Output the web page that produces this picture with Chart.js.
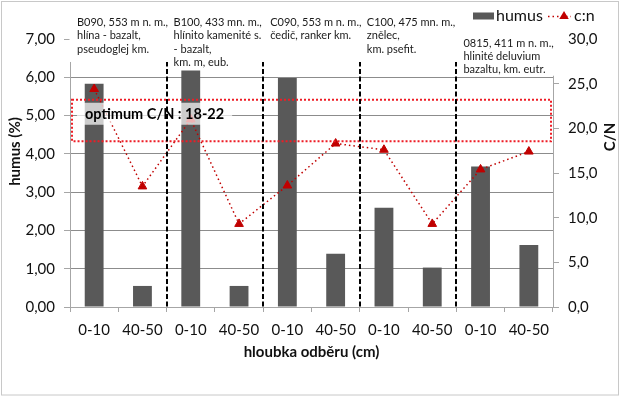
<!DOCTYPE html>
<html><head><meta charset="utf-8">
<script src="https://cdn.jsdelivr.net/npm/chart.js@4"></script>
<style>html,body{margin:0;padding:0;background:#fff}#wrap{width:622px;height:397px;position:relative}</style>
</head><body><div id="wrap"><canvas id="c" width="622" height="397"></canvas></div>
<script>
const categories = ["0-10","40-50","0-10","40-50","0-10","40-50","0-10","40-50","0-10","40-50"];
const humus = [5.83, 0.55, 6.18, 0.55, 5.98, 1.39, 2.59, 1.03, 3.67, 1.62];
const cn = [24.4, 13.5, 21.0, 9.3, 13.6, 18.3, 17.6, 9.3, 15.4, 17.4];
const seriesNames = ["humus", "c:n"];
const siteNotes = [
  ["B090, 553 m n. m.,", "hlína - bazalt,", "pseudoglej km."],
  ["B100, 433 mn. m.,", "hlínito kamenité s.", "- bazalt,", "km. m, eub."],
  ["C090, 553 m n. m.,", "čedič, ranker km."],
  ["C100, 475 mn. m.,", "znělec,", "km. psefit."],
  ["0815, 411 m n. m.,", "hlinité deluvium", "bazaltu, km. eutr."]
];
const optimumLabel = "optimum C/N : 18-22";
const optimumBand = [18.55, 23.2];
const axisTitleX = "hloubka odběru (cm)";
const axisTitleY = "humus (%)";
const axisTitleY1 = "C/N";

const FONT = 'Lato, "Open Sans", sans-serif';
const BAR = '#595959', RED = '#c00000', TXT = '#111';

function tri(ctx, x, y, r) {
  ctx.beginPath();
  ctx.moveTo(x, y - r);
  ctx.lineTo(x + r * 0.95, y + r * 0.6);
  ctx.lineTo(x - r * 0.95, y + r * 0.6);
  ctx.closePath();
  ctx.fill();
}

const overlay = {
  id: 'overlay',
  afterDraw(chart) {
    const ctx = chart.ctx, ca = chart.chartArea;
    const x = chart.scales.x, yL = chart.scales.y, yR = chart.scales.y1;
    const bnd = i => (x.getPixelForValue(2 * i - 1) + x.getPixelForValue(2 * i)) / 2;
    ctx.save();
    // optimum label with translucent box
    const bTop = yR.getPixelForValue(optimumBand[1]), bBot = yR.getPixelForValue(optimumBand[0]);
    ctx.font = 'bold 14.5px ' + FONT;
    ctx.textBaseline = 'middle'; ctx.textAlign = 'left';
    const lx = ca.left + 15, ly = bTop + 15;
    const tw = ctx.measureText(optimumLabel).width;
    ctx.fillStyle = 'rgba(255,255,255,0.7)';
    ctx.fillRect(lx - 8, ly - 12, tw + 16, 22);
    ctx.fillStyle = '#000';
    ctx.fillText(optimumLabel, lx, ly);
    // red dotted band
    ctx.strokeStyle = '#ee1c25'; ctx.lineWidth = 2; ctx.setLineDash([2, 2]);
    ctx.strokeRect(ca.left + 2, bTop, ca.right - ca.left - 4, bBot - bTop);
    // dashed separators between sites
    ctx.strokeStyle = '#000'; ctx.lineWidth = 2; ctx.setLineDash([5, 2.5]);
    for (let i = 1; i <= 4; i++) {
      const px = Math.round(bnd(i));
      ctx.beginPath(); ctx.moveTo(px, ca.top); ctx.lineTo(px, ca.bottom); ctx.stroke();
    }
    ctx.setLineDash([]);
    // white text boxes above plot
    ctx.fillStyle = '#fff';
    const c1 = yL.getPixelForValue(6.4), c2 = yL.getPixelForValue(6.04);
    ctx.fillRect(ca.left - 0.5, 0, ca.right + 8 - ca.left, c1);
    ctx.fillRect(bnd(4) + 4, c1 - 1, ca.right + 8 - bnd(4) - 4, c2 - c1 + 1);
    // site notes
    ctx.font = '11px ' + FONT; ctx.fillStyle = '#1a1a1a';
    siteNotes.forEach((lines, g) => {
      const gx = (g === 0 ? ca.left : bnd(g)) + 7;
      const y0 = g === 4 ? 43.5 : 22.7;
      lines.forEach((t, k) => ctx.fillText(t, gx, y0 + k * 13.2));
    });
    // legend
    ctx.fillStyle = BAR; ctx.fillRect(473, 12.5, 21, 7);
    ctx.font = '16px ' + FONT; ctx.fillStyle = TXT;
    ctx.fillText(seriesNames[0], 496, 16);
    ctx.strokeStyle = RED; ctx.lineWidth = 1.5; ctx.setLineDash([1.5, 3]);
    ctx.beginPath(); ctx.moveTo(548, 16.5); ctx.lineTo(571, 16.5); ctx.stroke();
    ctx.setLineDash([]);
    ctx.fillStyle = RED; tri(ctx, 564, 16, 5);
    ctx.fillStyle = TXT; ctx.fillText(seriesNames[1], 574, 16);
    // rotated axis titles
    ctx.font = 'bold 15px ' + FONT; ctx.textAlign = 'center'; ctx.fillStyle = TXT;
    ctx.save(); ctx.translate(15, 151.5); ctx.rotate(-Math.PI / 2); ctx.fillText(axisTitleY, 0, 0); ctx.restore();
    ctx.save(); ctx.translate(610, 137); ctx.rotate(-Math.PI / 2); ctx.fillText(axisTitleY1, 0, 0); ctx.restore();
    // chart border
    ctx.strokeStyle = '#c8c8c8'; ctx.lineWidth = 1;
    ctx.strokeRect(1.5, 1.5, 617, 393.5);
    ctx.restore();
  }
};

new Chart(document.getElementById('c'), {
  type: 'bar',
  data: {
    labels: categories,
    datasets: [
      { type: 'line', label: seriesNames[1], data: cn, yAxisID: 'y1', order: 0,
        borderColor: RED, borderWidth: 1.5, borderDash: [1.5, 3], tension: 0, fill: false,
        pointStyle: 'triangle', pointRadius: 5, pointBackgroundColor: RED, pointBorderColor: RED, pointBorderWidth: 1 },
      { type: 'bar', label: seriesNames[0], data: humus, yAxisID: 'y', order: 1,
        backgroundColor: BAR, barPercentage: 0.39, categoryPercentage: 1 }
    ]
  },
  options: {
    responsive: false, animation: false, devicePixelRatio: 1,
    layout: { padding: { top: 39, left: 0, right: 0, bottom: 0 } },
    plugins: { legend: { display: false }, tooltip: { enabled: false } },
    scales: {
      x: {
        offset: true,
        grid: { display: true, drawOnChartArea: false, offset: true, tickLength: 5, color: '#a6a6a6' },
        border: { color: '#a6a6a6' },
        ticks: { font: { family: FONT, size: 15 }, color: TXT, padding: 9, maxRotation: 0, autoSkip: false },
        title: { display: true, text: axisTitleX, font: { family: FONT, size: 15, weight: 'bold' }, color: TXT, padding: { top: 0, bottom: 36 } },
        afterFit(s) { s.height = 90; }
      },
      y: {
        position: 'left', min: 0, max: 7,
        ticks: { stepSize: 1, callback: v => v.toFixed(2).replace('.', ','), font: { family: FONT, size: 15 }, color: TXT, padding: 9 },
        grid: { color: '#8c8c8c', tickLength: 6, tickColor: '#a6a6a6' },
        border: { color: '#a6a6a6' },
        afterFit(s) { s.width = 70; }
      },
      y1: {
        position: 'right', min: 0, max: 30,
        ticks: { stepSize: 5, callback: v => v.toFixed(1).replace('.', ','), font: { family: FONT, size: 15 }, color: TXT, padding: 9 },
        grid: { drawOnChartArea: false, tickLength: 6, color: '#a6a6a6' },
        border: { color: '#a6a6a6' },
        afterFit(s) { s.width = 69; }
      }
    }
  },
  plugins: [overlay]
});
</script></body></html>
